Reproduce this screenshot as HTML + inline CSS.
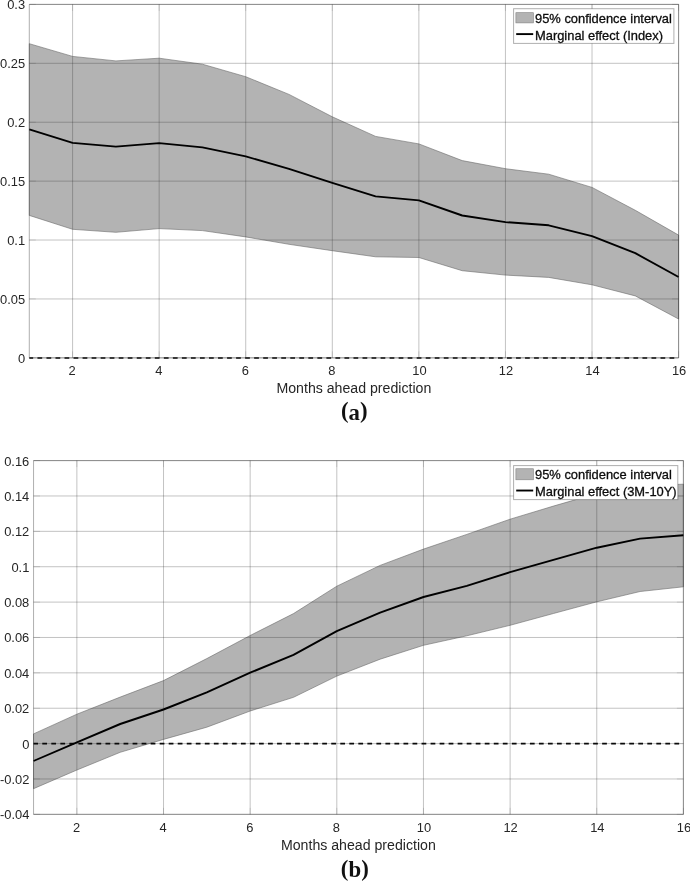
<!DOCTYPE html>
<html><head><meta charset="utf-8"><title>Marginal effects</title>
<style>
html,body{margin:0;padding:0;background:#fff;}
body{width:690px;height:881px;overflow:hidden;font-family:"Liberation Sans",sans-serif;}
svg{display:block;will-change:transform;}
text{font-family:"Liberation Sans",sans-serif;fill:#262626;}
text.lg{fill:#0c0c0c;stroke:#0c0c0c;stroke-width:0.3px;}
text.cap{font-family:"Liberation Serif",serif;font-weight:bold;font-size:22.8px;fill:#111;}
</style></head>
<body>
<svg width="690" height="881" viewBox="0 0 690 881">
<rect width="690" height="881" fill="#fff"/>
<g id="chart-a">
<polygon points="29.3,43.7 72.6,56.4 115.9,60.9 159.2,58.2 202.4,64.2 245.7,76.7 289.0,94.4 332.3,116.8 375.6,136.4 418.9,143.9 462.2,160.6 505.5,168.7 548.7,174.2 592.0,187.4 635.3,210.3 678.6,235.1 678.6,319.0 635.3,295.9 592.0,284.8 548.7,277.4 505.5,275.1 462.2,270.7 418.9,257.5 375.6,256.8 332.3,250.7 289.0,244.3 245.7,236.9 202.4,230.6 159.2,228.6 115.9,232.3 72.6,229.3 29.3,215.4" fill="#b3b3b3" stroke="#6a6a6a" stroke-width="0.6" stroke-linejoin="round"/>
<path d="M72.59 4.40V357.85M159.16 4.40V357.85M245.73 4.40V357.85M332.31 4.40V357.85M418.88 4.40V357.85M505.45 4.40V357.85M592.03 4.40V357.85M678.60 4.40V357.85M29.30 357.85H678.60M29.30 298.94H678.60M29.30 240.03H678.60M29.30 181.12H678.60M29.30 122.22H678.60M29.30 63.31H678.60M29.30 4.40H678.60" stroke="#262626" stroke-opacity="0.28" stroke-width="1.0" fill="none"/>
<path d="M29.30 358.00H678.60" stroke="#0a0a0a" stroke-width="1.6" stroke-dasharray="4.75 4.28" stroke-dashoffset="0.9" fill="none"/>
<polyline points="29.3,129.4 72.6,142.9 115.9,146.6 159.2,143.1 202.4,147.4 245.7,156.4 289.0,168.9 332.3,182.8 375.6,196.4 418.9,200.4 462.2,215.5 505.5,222.1 548.7,225.3 592.0,236.1 635.3,253.2 678.6,277.0" fill="none" stroke="#000" stroke-width="1.9" stroke-linejoin="round"/>
<path d="M72.59 357.85v-6.5M72.59 4.40v6.5M159.16 357.85v-6.5M159.16 4.40v6.5M245.73 357.85v-6.5M245.73 4.40v6.5M332.31 357.85v-6.5M332.31 4.40v6.5M418.88 357.85v-6.5M418.88 4.40v6.5M505.45 357.85v-6.5M505.45 4.40v6.5M592.03 357.85v-6.5M592.03 4.40v6.5M678.60 357.85v-6.5M678.60 4.40v6.5M29.30 357.85h6.5M678.60 357.85h-6.5M29.30 298.94h6.5M678.60 298.94h-6.5M29.30 240.03h6.5M678.60 240.03h-6.5M29.30 181.12h6.5M678.60 181.12h-6.5M29.30 122.22h6.5M678.60 122.22h-6.5M29.30 63.31h6.5M678.60 63.31h-6.5M29.30 4.40h6.5M678.60 4.40h-6.5" stroke="#262626" stroke-opacity="0.14" stroke-width="1.0" fill="none"/>
<path d="M29.30 4.40H678.60V357.85H29.30Z" stroke="#262626" stroke-opacity="0.37" stroke-width="1.0" fill="none"/>
<text x="25.1" y="362.8" text-anchor="end" font-size="12.9">0</text>
<text x="25.1" y="303.8" text-anchor="end" font-size="12.9">0.05</text>
<text x="25.1" y="244.9" text-anchor="end" font-size="12.9">0.1</text>
<text x="25.1" y="186.0" text-anchor="end" font-size="12.9">0.15</text>
<text x="25.1" y="127.1" text-anchor="end" font-size="12.9">0.2</text>
<text x="25.1" y="68.2" text-anchor="end" font-size="12.9">0.25</text>
<text x="25.1" y="9.3" text-anchor="end" font-size="12.9">0.3</text>
<text x="72.2" y="374.7" text-anchor="middle" font-size="12.9">2</text>
<text x="158.8" y="374.7" text-anchor="middle" font-size="12.9">4</text>
<text x="245.3" y="374.7" text-anchor="middle" font-size="12.9">6</text>
<text x="331.9" y="374.7" text-anchor="middle" font-size="12.9">8</text>
<text x="419.4" y="374.7" text-anchor="middle" font-size="12.9">10</text>
<text x="506.0" y="374.7" text-anchor="middle" font-size="12.9">12</text>
<text x="592.5" y="374.7" text-anchor="middle" font-size="12.9">14</text>
<text x="679.1" y="374.7" text-anchor="middle" font-size="12.9">16</text>
<text x="353.9" y="392.8" text-anchor="middle" font-size="14.15">Months ahead prediction</text>
<text x="354.2" y="419.5" text-anchor="middle" class="cap"><tspan dy="-1.1">(</tspan><tspan dy="1.1">a</tspan><tspan dy="-1.1">)</tspan></text>
<rect x="513.6" y="8.7" width="160.30" height="34.70" fill="#fff" stroke="#262626" stroke-opacity="0.37" stroke-width="1.0"/>
<rect x="515.90" y="12.70" width="17.5" height="10.20" fill="#b3b3b3" stroke="#808080" stroke-width="0.6"/>
<path d="M516.20 34.10h17" stroke="#000" stroke-width="1.9" fill="none"/>
<text x="535.00" y="23.00" font-size="12.9" class="lg">95% confidence interval</text>
<text x="535.00" y="39.70" font-size="12.9" class="lg">Marginal effect (Index)</text>
</g>
<g id="chart-b">
<polygon points="33.5,733.9 76.9,714.2 120.2,697.1 163.5,680.6 206.8,658.6 250.2,635.5 293.5,613.6 336.8,586.2 380.1,565.4 423.5,549.1 466.8,534.4 510.1,519.2 553.4,506.1 596.8,493.6 640.1,485.7 683.4,484.2 683.4,586.8 640.1,591.5 596.8,601.8 553.4,613.5 510.1,625.3 466.8,635.8 423.5,645.3 380.1,659.2 336.8,676.1 293.5,697.3 250.2,711.0 206.8,727.2 163.5,739.4 120.2,752.3 76.9,770.0 33.5,788.7" fill="#b3b3b3" stroke="#6a6a6a" stroke-width="0.6" stroke-linejoin="round"/>
<path d="M76.87 460.60V814.35M163.52 460.60V814.35M250.17 460.60V814.35M336.81 460.60V814.35M423.46 460.60V814.35M510.11 460.60V814.35M596.75 460.60V814.35M683.40 460.60V814.35M33.55 814.35H683.40M33.55 778.98H683.40M33.55 743.60H683.40M33.55 708.23H683.40M33.55 672.85H683.40M33.55 637.48H683.40M33.55 602.10H683.40M33.55 566.73H683.40M33.55 531.35H683.40M33.55 495.98H683.40M33.55 460.60H683.40" stroke="#262626" stroke-opacity="0.28" stroke-width="1.0" fill="none"/>
<path d="M33.55 743.60H683.40" stroke="#0a0a0a" stroke-width="1.6" stroke-dasharray="4.75 4.28" stroke-dashoffset="0.3" fill="none"/>
<polyline points="33.5,761.0 76.9,742.3 120.2,724.0 163.5,709.5 206.8,692.3 250.2,672.7 293.5,654.8 336.8,631.1 380.1,612.6 423.5,597.0 466.8,585.8 510.1,572.1 553.4,559.8 596.8,547.7 640.1,538.6 683.4,535.2" fill="none" stroke="#000" stroke-width="1.9" stroke-linejoin="round"/>
<path d="M76.87 814.35v-6.5M76.87 460.60v6.5M163.52 814.35v-6.5M163.52 460.60v6.5M250.17 814.35v-6.5M250.17 460.60v6.5M336.81 814.35v-6.5M336.81 460.60v6.5M423.46 814.35v-6.5M423.46 460.60v6.5M510.11 814.35v-6.5M510.11 460.60v6.5M596.75 814.35v-6.5M596.75 460.60v6.5M683.40 814.35v-6.5M683.40 460.60v6.5M33.55 814.35h6.5M683.40 814.35h-6.5M33.55 778.98h6.5M683.40 778.98h-6.5M33.55 743.60h6.5M683.40 743.60h-6.5M33.55 708.23h6.5M683.40 708.23h-6.5M33.55 672.85h6.5M683.40 672.85h-6.5M33.55 637.48h6.5M683.40 637.48h-6.5M33.55 602.10h6.5M683.40 602.10h-6.5M33.55 566.73h6.5M683.40 566.73h-6.5M33.55 531.35h6.5M683.40 531.35h-6.5M33.55 495.98h6.5M683.40 495.98h-6.5M33.55 460.60h6.5M683.40 460.60h-6.5" stroke="#262626" stroke-opacity="0.14" stroke-width="1.0" fill="none"/>
<path d="M33.55 460.60H683.40V814.35H33.55Z" stroke="#262626" stroke-opacity="0.37" stroke-width="1.0" fill="none"/>
<text x="29.3" y="819.2" text-anchor="end" font-size="12.9">-0.04</text>
<text x="29.3" y="783.9" text-anchor="end" font-size="12.9">-0.02</text>
<text x="29.3" y="748.5" text-anchor="end" font-size="12.9">0</text>
<text x="29.3" y="713.1" text-anchor="end" font-size="12.9">0.02</text>
<text x="29.3" y="677.8" text-anchor="end" font-size="12.9">0.04</text>
<text x="29.3" y="642.4" text-anchor="end" font-size="12.9">0.06</text>
<text x="29.3" y="607.0" text-anchor="end" font-size="12.9">0.08</text>
<text x="29.3" y="571.6" text-anchor="end" font-size="12.9">0.1</text>
<text x="29.3" y="536.2" text-anchor="end" font-size="12.9">0.12</text>
<text x="29.3" y="500.9" text-anchor="end" font-size="12.9">0.14</text>
<text x="29.3" y="465.5" text-anchor="end" font-size="12.9">0.16</text>
<text x="76.5" y="831.5" text-anchor="middle" font-size="12.9">2</text>
<text x="163.1" y="831.5" text-anchor="middle" font-size="12.9">4</text>
<text x="249.8" y="831.5" text-anchor="middle" font-size="12.9">6</text>
<text x="336.4" y="831.5" text-anchor="middle" font-size="12.9">8</text>
<text x="424.0" y="831.5" text-anchor="middle" font-size="12.9">10</text>
<text x="510.6" y="831.5" text-anchor="middle" font-size="12.9">12</text>
<text x="597.3" y="831.5" text-anchor="middle" font-size="12.9">14</text>
<text x="683.9" y="831.5" text-anchor="middle" font-size="12.9">16</text>
<text x="358.4" y="849.5" text-anchor="middle" font-size="14.15">Months ahead prediction</text>
<text x="354.8" y="877.4" text-anchor="middle" class="cap"><tspan dy="-1.1">(</tspan><tspan dy="1.1">b</tspan><tspan dy="-1.1">)</tspan></text>
<rect x="513.6" y="465.6" width="164.20" height="34.00" fill="#fff" stroke="#262626" stroke-opacity="0.37" stroke-width="1.0"/>
<rect x="515.90" y="468.75" width="17.5" height="11.05" fill="#b3b3b3" stroke="#808080" stroke-width="0.6"/>
<path d="M516.20 490.53h17" stroke="#000" stroke-width="1.9" fill="none"/>
<text x="535.00" y="479.05" font-size="12.9" class="lg">95% confidence interval</text>
<text x="535.00" y="495.75" font-size="12.9" class="lg">Marginal effect (3M-10Y)</text>
</g>
</svg>
</body></html>
